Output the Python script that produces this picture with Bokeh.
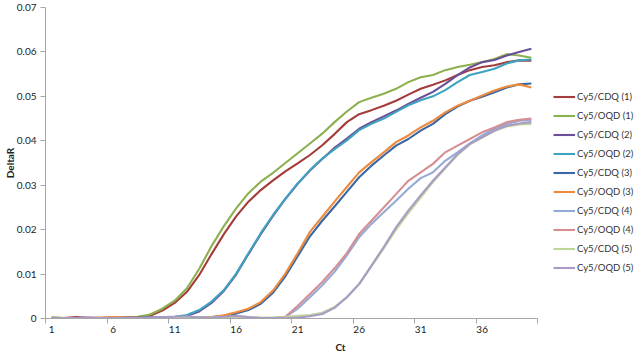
from bokeh.plotting import figure
from bokeh.models import Range1d, FixedTicker, Legend, LegendItem
from bokeh.embed import file_html
from bokeh.resources import INLINE

cycles = list(range(1, 41))

cy5_cdq_1 = [0.0001, 0.0001, 0.0003, 0.0001, 0.0001, 0.0001, 0.0002, 0.0003, 0.0006, 0.0018,
             0.0035, 0.0060, 0.0098, 0.0145, 0.0190, 0.0230, 0.0263, 0.0289, 0.0311, 0.0331,
             0.0349, 0.0368, 0.0390, 0.0415, 0.0442, 0.0460, 0.0469, 0.0479, 0.0490, 0.0504,
             0.0517, 0.0526, 0.0536, 0.0548, 0.0559, 0.0566, 0.0570, 0.0577, 0.0581, 0.0580]
cy5_oqd_1 = [0.0003, 0.0001, 0.0001, 0.0001, 0.0001, 0.0002, 0.0002, 0.0004, 0.0009, 0.0022,
             0.0040, 0.0068, 0.0112, 0.0163, 0.0208, 0.0248, 0.0282, 0.0308, 0.0328, 0.0350,
             0.0372, 0.0394, 0.0416, 0.0442, 0.0466, 0.0487, 0.0497, 0.0506, 0.0517, 0.0532,
             0.0543, 0.0548, 0.0559, 0.0566, 0.0571, 0.0577, 0.0584, 0.0595, 0.0592, 0.0587]
cy5_cdq_2 = [0.0001, 0.0001, 0.0001, 0.0002, 0.0001, 0.0001, 0.0002, 0.0002, 0.0002, 0.0002,
             0.0003, 0.0006, 0.0016, 0.0035, 0.0062, 0.0099, 0.0145, 0.0190, 0.0231, 0.0269,
             0.0303, 0.0333, 0.0359, 0.0384, 0.0405, 0.0427, 0.0442, 0.0455, 0.0468, 0.0483,
             0.0497, 0.0510, 0.0528, 0.0548, 0.0565, 0.0577, 0.0582, 0.0592, 0.0600, 0.0607]
cy5_oqd_2 = [0.0001, 0.0001, 0.0001, 0.0001, 0.0001, 0.0002, 0.0001, 0.0002, 0.0002, 0.0003,
             0.0004, 0.0008, 0.0019, 0.0038, 0.0064, 0.0101, 0.0147, 0.0192, 0.0233, 0.0270,
             0.0304, 0.0334, 0.0360, 0.0381, 0.0401, 0.0424, 0.0438, 0.0450, 0.0465, 0.0480,
             0.0491, 0.0500, 0.0514, 0.0532, 0.0548, 0.0555, 0.0562, 0.0574, 0.0581, 0.0583]
cy5_cdq_3 = [0.0001, 0.0001, 0.0001, 0.0001, 0.0001, 0.0001, 0.0001, 0.0002, 0.0002, 0.0002,
             0.0002, 0.0002, 0.0002, 0.0003, 0.0006, 0.0011, 0.0019, 0.0033, 0.0058, 0.0095,
             0.0140, 0.0185, 0.0220, 0.0252, 0.0285, 0.0318, 0.0344, 0.0367, 0.0389, 0.0404,
             0.0423, 0.0438, 0.0460, 0.0477, 0.0490, 0.0499, 0.0509, 0.0520, 0.0527, 0.0529]
cy5_oqd_3 = [0.0001, 0.0001, 0.0001, 0.0001, 0.0002, 0.0003, 0.0002, 0.0002, 0.0001, 0.0001,
             0.0002, 0.0002, 0.0002, 0.0003, 0.0007, 0.0014, 0.0022, 0.0037, 0.0063, 0.0101,
             0.0147, 0.0195, 0.0229, 0.0263, 0.0296, 0.0329, 0.0352, 0.0374, 0.0397, 0.0412,
             0.0430, 0.0445, 0.0464, 0.0479, 0.0490, 0.0502, 0.0513, 0.0522, 0.0527, 0.0520]
cy5_cdq_4 = [0.0001, 0.0001, 0.0001, 0.0001, 0.0001, 0.0001, 0.0001, 0.0001, 0.0001, 0.0002,
             0.0003, 0.0003, 0.0002, 0.0001, 0.0002, 0.0003, 0.0002, 0.0001, 0.0001, 0.0003,
             0.0022, 0.0048, 0.0075, 0.0105, 0.0142, 0.0183, 0.0213, 0.0239, 0.0265, 0.0292,
             0.0316, 0.0329, 0.0355, 0.0374, 0.0394, 0.0412, 0.0427, 0.0438, 0.0445, 0.0447]
cy5_oqd_4 = [0.0001, 0.0001, 0.0001, 0.0001, 0.0001, 0.0001, 0.0001, 0.0001, 0.0001, 0.0001,
             0.0002, 0.0002, 0.0001, 0.0001, 0.0002, 0.0002, 0.0001, 0.0001, 0.0001, 0.0004,
             0.0028, 0.0055, 0.0082, 0.0113, 0.0147, 0.0190, 0.0220, 0.0250, 0.0280, 0.0310,
             0.0329, 0.0348, 0.0374, 0.0389, 0.0404, 0.0419, 0.0430, 0.0442, 0.0447, 0.0450]
cy5_cdq_5 = [0.0002, 0.0001, 0.0001, 0.0001, 0.0001, 0.0001, 0.0001, 0.0001, 0.0001, 0.0002,
             0.0003, 0.0003, 0.0002, 0.0002, 0.0003, 0.0004, 0.0003, 0.0002, 0.0002, 0.0003,
             0.0006, 0.0008, 0.0013, 0.0026, 0.0048, 0.0077, 0.0117, 0.0158, 0.0200, 0.0237,
             0.0272, 0.0307, 0.0338, 0.0368, 0.0392, 0.0407, 0.0422, 0.0432, 0.0437, 0.0438]
cy5_oqd_5 = [0.0001, 0.0001, 0.0001, 0.0001, 0.0001, 0.0001, 0.0001, 0.0001, 0.0002, 0.0003,
             0.0004, 0.0005, 0.0002, 0.0002, 0.0004, 0.0006, 0.0003, 0.0001, 0.0001, 0.0001,
             0.0002, 0.0005, 0.0010, 0.0024, 0.0048, 0.0078, 0.0119, 0.0161, 0.0205, 0.0243,
             0.0277, 0.0310, 0.0340, 0.0370, 0.0393, 0.0408, 0.0423, 0.0434, 0.0439, 0.0442]

series_names = ["Cy5/CDQ (1)", "Cy5/OQD (1)", "Cy5/CDQ (2)", "Cy5/OQD (2)", "Cy5/CDQ (3)",
                "Cy5/OQD (3)", "Cy5/CDQ (4)", "Cy5/OQD (4)", "Cy5/CDQ (5)", "Cy5/OQD (5)"]
series_values = [cy5_cdq_1, cy5_oqd_1, cy5_cdq_2, cy5_oqd_2, cy5_cdq_3,
                 cy5_oqd_3, cy5_cdq_4, cy5_oqd_4, cy5_cdq_5, cy5_oqd_5]
series_colors = ["#A33C3A", "#8DB04E", "#6A4F96", "#3FA3C0", "#3B67A4",
                 "#EC8A3E", "#93ABD6", "#D58F94", "#BFD69B", "#A89BC6"]

x_tick_values = [1, 6, 11, 16, 21, 26, 31, 36]
x_minor_ticks = [0.5, 5.5, 10.5, 15.5, 20.5, 25.5, 30.5, 35.5, 40.5]
y_tick_values = [0, 0.01, 0.02, 0.03, 0.04, 0.05, 0.06, 0.07]
y_tick_labels = {0: "0", 0.01: "0.01", 0.02: "0.02", 0.03: "0.03", 0.04: "0.04",
                 0.05: "0.05", 0.06: "0.06", 0.07: "0.07"}

FONT = "Lato"
FS = "10px"
AXIS_COLOR = "#A6A6A6"

# frame spans the whole width right of the y axis; the axis itself stops at 40.5
x_end = 0.5 + 40 * 590 / 492

p = figure(width=635, height=355, output_backend="svg", toolbar_location=None,
           x_range=Range1d(0.5, x_end), y_range=Range1d(0, 0.07),
           min_border_left=45, min_border_right=0, min_border_top=7, min_border_bottom=37)
p.outline_line_color = None
p.xgrid.visible = False
p.ygrid.visible = False
p.background_fill_color = "white"
p.border_fill_color = "white"

items = []
for name, vals, col in zip(series_names, series_values, series_colors):
    r = p.line(cycles, vals, line_color=col, line_width=2.1)
    items.append(LegendItem(label=name, renderers=[r]))

xa = p.xaxis[0]
xa.ticker = FixedTicker(ticks=x_tick_values, minor_ticks=x_minor_ticks)
xa.bounds = (0.5, 40.5)
xa.major_tick_line_color = None
xa.major_tick_out = 0
xa.major_tick_in = 0
xa.minor_tick_line_color = AXIS_COLOR
xa.minor_tick_out = 5
xa.minor_tick_in = 0
xa.axis_line_color = AXIS_COLOR
xa.major_label_standoff = 2
xa.major_label_text_font = FONT
xa.major_label_text_font_size = FS
xa.major_label_text_color = "#222222"
xa.axis_label = "Ct"
xa.axis_label_text_font = FONT
xa.axis_label_text_font_style = "bold"
xa.axis_label_text_font_size = FS
xa.axis_label_text_color = "#222222"
xa.axis_label_standoff = 5

ya = p.yaxis[0]
ya.ticker = FixedTicker(ticks=y_tick_values, minor_ticks=[])
ya.major_label_overrides = y_tick_labels
ya.major_tick_line_color = AXIS_COLOR
ya.major_tick_out = 5
ya.major_tick_in = 0
ya.axis_line_color = AXIS_COLOR
ya.major_label_standoff = 4
ya.major_label_text_font = FONT
ya.major_label_text_font_size = FS
ya.major_label_text_color = "#222222"
ya.axis_label = "DeltaR"
ya.axis_label_text_font = FONT
ya.axis_label_text_font_style = "bold"
ya.axis_label_text_font_size = FS
ya.axis_label_text_color = "#222222"
ya.axis_label_standoff = -2

legend = Legend(items=items, location=(508, 41))
legend.border_line_color = None
legend.background_fill_alpha = 0
legend.padding = 0
legend.margin = 0
legend.spacing = 0
legend.glyph_width = 22
legend.glyph_height = 19
legend.label_height = 19
legend.label_standoff = 2
legend.label_text_font = FONT
legend.label_text_font_size = "9.5px"
legend.label_text_color = "#333333"
p.add_layout(legend, "center")

open("out.html", "w").write(file_html(p, INLINE))
